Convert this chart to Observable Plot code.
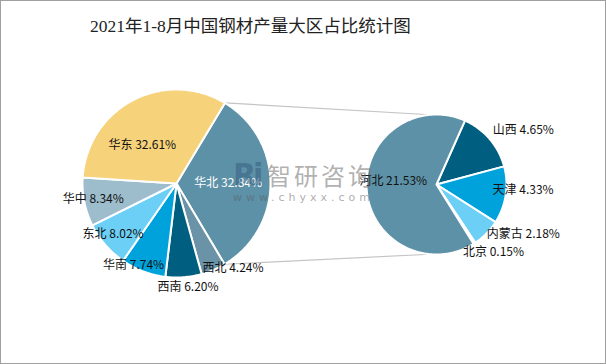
<!DOCTYPE html>
<html><head><meta charset="utf-8">
<script src="https://cdn.jsdelivr.net/npm/d3@7"></script>
<script src="https://cdn.jsdelivr.net/npm/@observablehq/plot@0.6"></script>
<style>
body{margin:0;background:#fff;}
#frame{position:relative;width:606px;height:364px;box-sizing:border-box;border:1px solid #a0a0a0;overflow:hidden;background:#fff;}
#title{height:50px;line-height:50px;padding-left:89px;font-family:"Liberation Serif","Noto Sans CJK SC",serif;font-size:17.5px;color:#222;white-space:nowrap;}
#chart svg{display:block}
#wm{position:absolute;left:232px;top:160px;pointer-events:none;font-family:"Noto Sans CJK SC","Noto Sans",sans-serif;white-space:nowrap;}
#wm .logo{display:inline-block;width:34px;font-family:"DejaVu Sans",sans-serif;font-weight:bold;font-size:30px;color:rgba(50,90,125,0.5);letter-spacing:-3px;vertical-align:top;line-height:28px;}
#wm .cn{font-size:24px;color:rgba(110,110,110,0.55);letter-spacing:3px;line-height:28px;vertical-align:top;}
#wm .url{font-family:"DejaVu Sans",sans-serif;font-size:11px;color:rgba(90,90,90,0.5);letter-spacing:4px;margin-top:2px;}
</style></head>
<body>
<div id="frame">
  <div id="title">2021年1-8月中国钢材产量大区占比统计图</div>
  <div id="chart"></div>
  <div id="wm"><div><span class="logo">Ri</span><span class="cn">智研咨询</span></div><div class="url">www.chyxx.com</div></div>
</div>
<script>
// ---- data ----
const regions = ["华北", "西北", "西南", "华南", "东北", "华中", "华东"];
const regionShares = [32.84, 4.24, 6.20, 7.74, 8.02, 8.34, 32.61];
const provinces = ["山西", "天津", "内蒙古", "北京", "河北"];
const provinceShares = [4.65, 4.33, 2.18, 0.15, 21.53];

// ---- palette ----
const regionColors = ["#5d91a8", "#6a93a8", "#005f80", "#00a2db", "#6ccff5", "#9dbdcc", "#f6d27b"];
const provinceColors = ["#005f80", "#00a2db", "#6ccff5", "#9dbdcc", "#5d91a8"];

// ---- layout ----
const W = 604, H = 312;
const left = {cx: 175, cy: 132, r: 94, start: 31};
const right = {cx: 435, cy: 133, r: 70, start: 24};
// "best fit" data-label placement: radius factor and angular nudge (degrees) per slice
const leftLabelK = [0.55, 1.08, 1.11, 0.98, 0.86, 0.90, 0.55];
const leftLabelShift = [0, -10.7, -2, 7, 2.5, 1, -13.7];
const rightLabelK = [1.46, 1.24, 1.43, 1.26, 0.62];
const rightLabelShift = [8.7, -5, -14.6, -7.4, 9];

const rad = d => d * Math.PI / 180;
const pt = (p, a, k = 1) => ({x: p.cx + p.r * k * Math.sin(rad(a)), y: p.cy - p.r * k * Math.cos(rad(a))});

const slicePts = [];
const labels = [];
function buildPie(names, shares, p, ks, shifts, whiteIdx) {
  const total = d3.sum(shares);
  let a = p.start;
  const spans = [];
  names.forEach((n, i) => {
    const span = shares[i] / total * 360;
    const a0 = a, a1 = a + span;
    slicePts.push({name: n, x: p.cx, y: p.cy});
    const steps = Math.max(2, Math.ceil(span));
    for (let s = 0; s <= steps; s++) {
      slicePts.push({name: n, ...pt(p, a0 + span * s / steps)});
    }
    slicePts.push({name: n, x: p.cx, y: p.cy});
    const q = pt(p, (a0 + a1) / 2 + shifts[i], ks[i]);
    labels.push({...q, text: `${n} ${shares[i].toFixed(2)}%`, white: i === whiteIdx});
    spans.push([a0, a1]);
    a = a1;
  });
  return spans;
}
const leftSpans = buildPie(regions, regionShares, left, leftLabelK, leftLabelShift, 0);
buildPie(provinces, provinceShares, right, rightLabelK, rightLabelShift, -1);

// connector lines from the split region (华北) to the secondary pie
const p0 = pt(left, leftSpans[0][0]), p1 = pt(left, leftSpans[0][1]);
const q0 = pt(right, -5), q1 = pt(right, 185);
const links = [
  {x1: p0.x, y1: p0.y, x2: q0.x, y2: q0.y},
  {x1: p1.x, y1: p1.y, x2: q1.x, y2: q1.y}
];

const font = "'Noto Sans CJK SC', 'Noto Sans', sans-serif";
const chart = Plot.plot({
  width: W, height: H,
  margin: 0,
  x: {domain: [0, W], range: [0, W], axis: null},
  y: {domain: [0, H], range: [0, H], axis: null},
  color: {domain: [...regions, ...provinces.filter(d => !regions.includes(d))],
          range: [...regionColors, ...provinceColors.slice(0, 4)]},
  style: {background: "transparent", overflow: "visible"},
  marks: [
    Plot.link(links, {x1: "x1", y1: "y1", x2: "x2", y2: "y2", stroke: "#c4c4c4", strokeWidth: 1.2}),
    Plot.line(slicePts.filter(d => d.name !== "河北"),
      {x: "x", y: "y", z: "name", fill: "name", stroke: "white", strokeWidth: 2, strokeLinejoin: "round"}),
    Plot.line(slicePts.filter(d => d.name === "河北"),
      {x: "x", y: "y", z: "name", fill: provinceColors[4], stroke: "white", strokeWidth: 2, strokeLinejoin: "round"}),
    Plot.text(labels.filter(d => !d.white), {x: "x", y: "y", text: "text", fill: "#111", fontSize: 12, fontFamily: font, textAnchor: "middle"}),
    Plot.text(labels.filter(d => d.white), {x: "x", y: "y", text: "text", fill: "white", fontSize: 12, fontFamily: font, textAnchor: "middle"})
  ]
});
document.getElementById("chart").appendChild(chart);
</script>
</body></html>
